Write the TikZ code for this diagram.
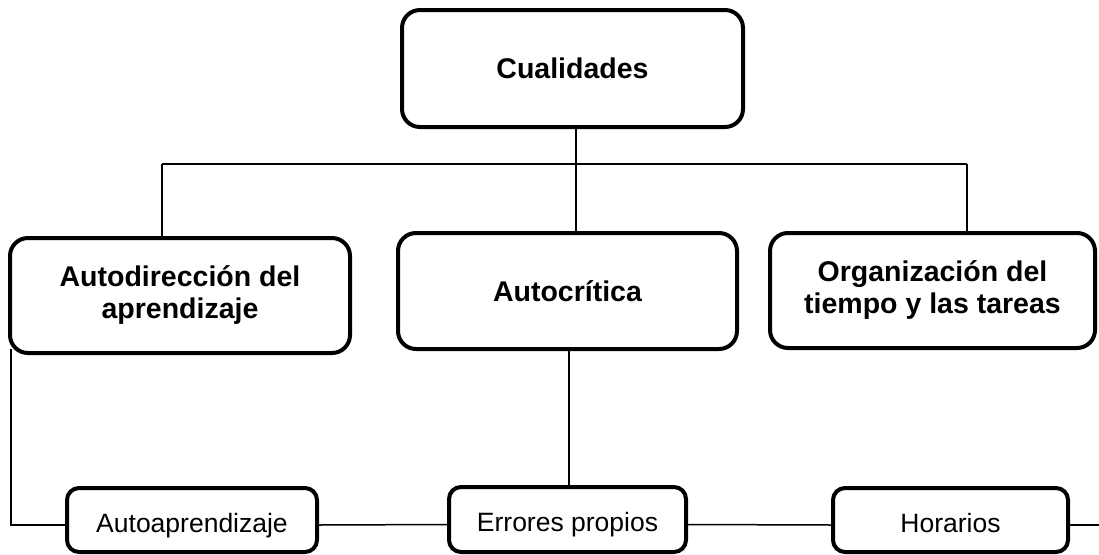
\documentclass[tikz,border=0pt]{standalone}
\usepackage{fontspec}
\setmainfont{Liberation Sans}
\tikzset{
  bigbox/.style={draw=black, fill=white, line width=4pt, rounded corners=18pt, align=center,
    font=\bfseries\fontsize{28.5}{32}\selectfont, inner sep=0pt},
  smallbox/.style={draw=black, fill=white, line width=4pt, rounded corners=12pt, align=center,
    font=\fontsize{26.5}{30}\selectfont, inner sep=0pt, text height=26pt, text depth=2pt},
  conn/.style={draw=black, line width=1.5pt}
}
\begin{document}
\begin{tikzpicture}[x=1pt,y=-1pt]
\useasboundingbox (0,0) rectangle (1099,554);
\coordinate (busL) at (162,164);
\coordinate (busR) at (967,164);
\coordinate (jn) at (576,164);
\coordinate (rEnd) at (1099,525);

\node[bigbox, minimum width=341pt, minimum height=117pt] (cual) at (572.5,68.5) {Cualidades};
\node[bigbox, minimum width=340pt, minimum height=115pt] (autodir) at (180,295.5) {Autodirección del\\aprendizaje};
\node[bigbox, minimum width=339pt, minimum height=116pt] (autocrit) at (567.5,291) {Autocrítica};
\node[bigbox, minimum width=325pt, minimum height=115pt] (org) at (932.5,290.5) {Organización del\\tiempo y las tareas};

\node[smallbox, minimum width=250pt, minimum height=64pt] (autoap) at (192,520) {Autoaprendizaje};
\node[smallbox, minimum width=237pt, minimum height=65pt] (errores) at (567.5,519.5) {Errores propios};
\node[smallbox, minimum width=235pt, minimum height=64pt] (horarios) at (950.5,520) {Horarios};

\draw[conn] (busL) -- (busR);
\draw[conn] (jn |- cual.south) -- (jn |- autocrit.north);
\draw[conn] (busL) -- (busL |- autodir.north);
\draw[conn] (busR) -- (busR |- org.north);
\draw[conn] ([xshift=1.5pt]autocrit.south) -- ([xshift=1.5pt]errores.north);
\draw[conn] ([xshift=3pt,yshift=6pt]autodir.south west) |- ([yshift=-5pt]autoap.west);
\draw[conn] ([yshift=-5pt]autoap.east) -- ([yshift=-5pt]errores.west);
\draw[conn] ([yshift=-5pt]errores.east) -- ([yshift=-5pt]horarios.west);
\draw[conn] ([yshift=-5pt]horarios.east) -- (rEnd);
\end{tikzpicture}
\end{document}
